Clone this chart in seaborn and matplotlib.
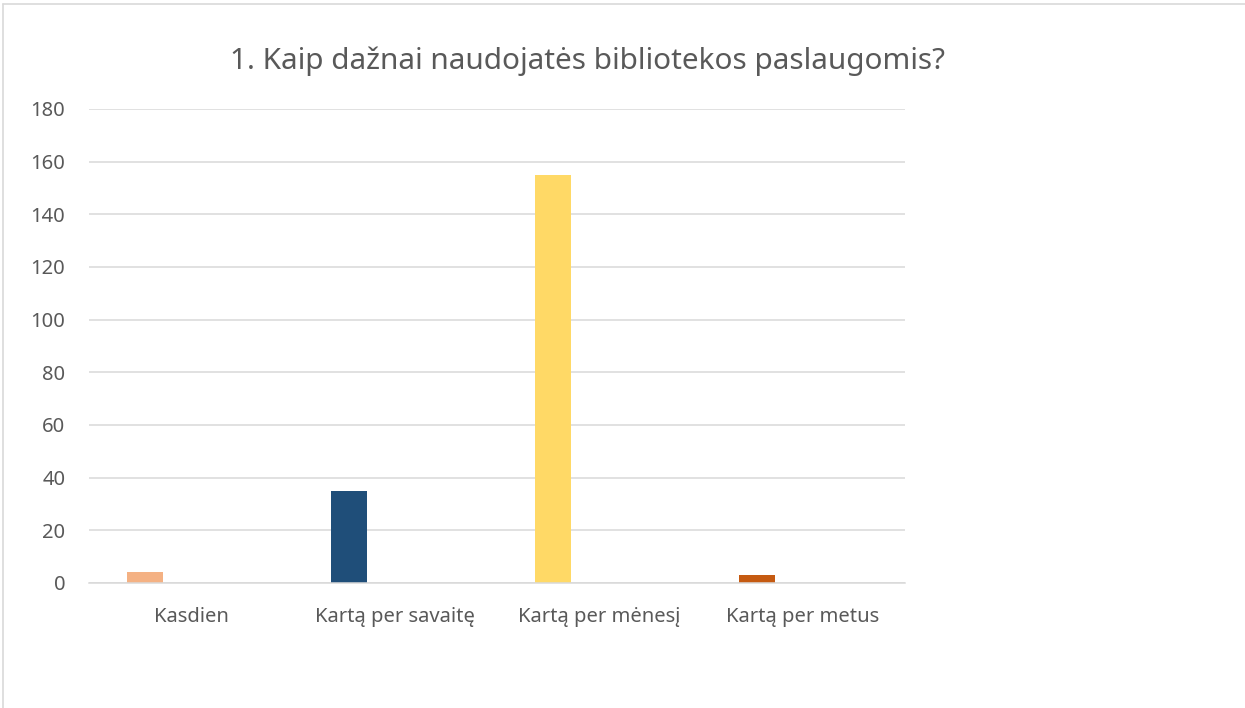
import matplotlib
matplotlib.use("Agg")
import matplotlib.pyplot as plt
from matplotlib.lines import Line2D
import seaborn as sns
import pandas as pd
import numpy as np

categories = ["Kasdien", "Kartą per savaitę", "Kartą per mėnesį", "Kartą per metus"]
values = [4, 35, 155, 3]
bar_colors = ["#F4B183", "#1F4E79", "#FFD966", "#C55A11"]
series_names = ["Seka 1", "Seka 2", "Seka 3"]
yticks = [0, 20, 40, 60, 80, 100, 120, 140, 160, 180]
title = "1. Kaip dažnai naudojatės bibliotekos paslaugomis?"

sns.set_theme(style="white")
plt.rcParams["font.family"] = ["Noto Sans", "DejaVu Sans"]

rows = []
for c, v in zip(categories, values):
    rows.append({"kat": c, "serija": series_names[0], "val": v})
    for s in series_names[1:]:
        rows.append({"kat": c, "serija": s, "val": np.nan})
df = pd.DataFrame(rows)

fig = plt.figure(figsize=(12.45, 7.08), dpi=100)
ax = fig.add_axes([89 / 1245, 1 - 583 / 708, (905 - 89) / 1245, (583 - 109) / 708])

sns.barplot(data=df, x="kat", y="val", hue="serija", hue_order=series_names,
            order=categories, dodge=True, width=0.6724, gap=0.2126,
            palette=["#888888"] * 3, legend=False, ax=ax, linewidth=0,
            errorbar=None)

bars = [p for p in ax.patches if np.isfinite(p.get_height()) and p.get_height() > 0]
bars.sort(key=lambda p: p.get_x())
for p, col in zip(bars, bar_colors):
    p.set_facecolor(col)
    p.set_edgecolor("none")

ax.set_ylim(0, 180)
ax.set_xlim(-0.5, 3.5)
ax.set_yticks(yticks)
ax.set_yticklabels([str(t) for t in yticks])
ax.yaxis.grid(True, color="#D9D9D9", linewidth=1.1)
ax.set_axisbelow(True)
for side in ["top", "right", "left"]:
    ax.spines[side].set_visible(False)
ax.spines["bottom"].set_color("#D9D9D9")
ax.spines["bottom"].set_linewidth(1.1)
ax.tick_params(axis="y", length=0, pad=17, labelsize=14.5, labelcolor="#595959")
ax.tick_params(axis="x", length=0, pad=17, labelsize=14.5, labelcolor="#595959")
ax.set_xlabel("")
ax.set_ylabel("")

fig.text(588 / 1245, 1 - 61 / 708, title, ha="center", va="center",
         fontsize=21.4, color="#595959")

# chart border (top and left visible)
fig.add_artist(Line2D([3 / 1245, 1], [1 - 4 / 708, 1 - 4 / 708], color="#D9D9D9",
                      linewidth=1.2, transform=fig.transFigure))
fig.add_artist(Line2D([3 / 1245, 3 / 1245], [0, 1 - 4 / 708], color="#D9D9D9",
                      linewidth=1.2, transform=fig.transFigure))

fig.savefig("out.png", dpi=100)
